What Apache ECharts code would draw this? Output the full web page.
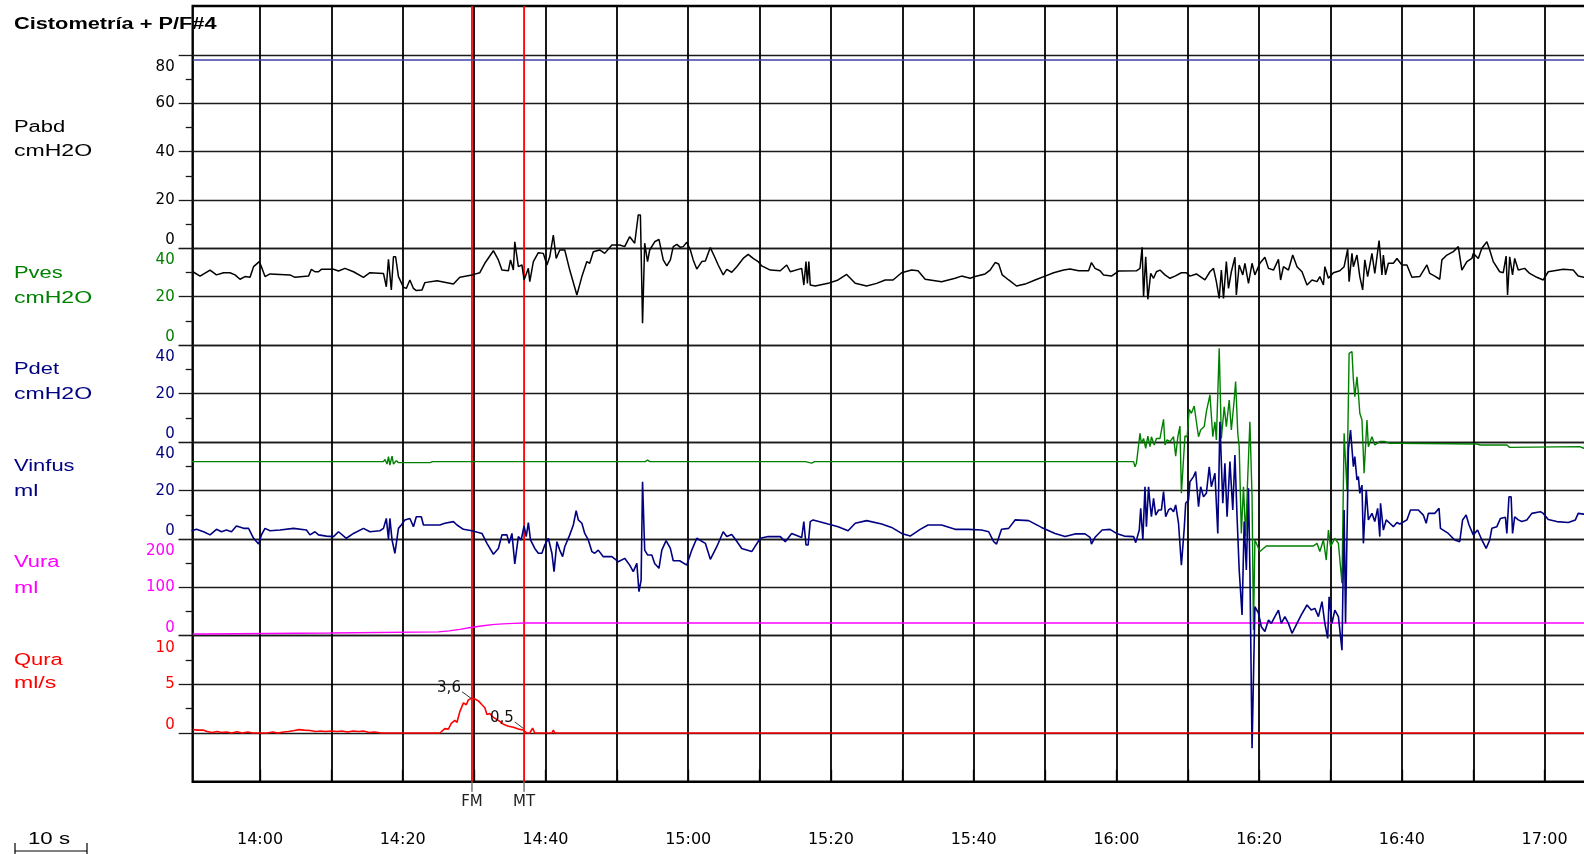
<!DOCTYPE html>
<html><head><meta charset="utf-8">
<script src="https://cdn.jsdelivr.net/npm/echarts@6/dist/echarts.min.js"></script>
<style>html,body{margin:0;padding:0;background:#fff}#c{width:1584px;height:854px}</style>
</head><body><div id="c"></div><script>
// ---------------- DATA ----------------
const title = 'Cistometría + P/F#4';
const channelNames = ['Pabd', 'Pves', 'Pdet', 'Vinfus', 'Vura', 'Qura'];
const channelUnits = ['cmH2O', 'cmH2O', 'cmH2O', 'ml', 'ml', 'ml/s'];
const channelColors = ['#000000', '#008000', '#000080', '#000080', '#ff00ff', '#ff0000'];
const axisMin = [0, 0, 0, 0, 0, 0];
const axisMax = [80, 40, 40, 40, 200, 10];
const axisStep = [20, 20, 20, 20, 100, 5];
const timeMin = 830.57, timeMax = 1027.2;          // seconds (mm:ss labels)
const markerNames = ['FM', 'MT'];
const markerTimes = [869.7, 877.0];
const annotationTexts = ['3,6', '0,5'];
const annotationFrom = [[868.3, 4.24], [875.7, 1.14]];
const annotationTo = [[869.6, 3.55], [876.9, 0.47]];

// blue flat trace (on Pabd scale)
const traceBlue = [[830.6, 77.9], [1027.2, 77.9]];
// black trace (on Pves scale)
const traceBlack = [[830.6,30.3],[831.6,28.5],[833.0,31.0],[833.9,29.0],[834.9,29.9],[835.8,29.9],[836.5,29.0],[837.2,27.2],[837.9,28.3],[838.6,28.0],[839.1,32.4],[839.9,34.5],[840.2,32.4],[840.7,28.3],[841.4,29.4],[844.2,29.0],[844.9,28.0],[846.8,28.5],[847.2,31.3],[847.7,30.3],[848.2,30.3],[848.6,31.3],[850.3,31.3],[851.0,30.6],[851.9,31.7],[853.1,30.3],[854.5,28.0],[855.4,29.9],[857.3,29.6],[857.7,24.1],[858.0,35.4],[858.4,22.8],[858.7,36.5],[859.0,36.5],[859.4,28.3],[860.1,23.9],[860.5,23.4],[861.0,26.9],[861.5,23.4],[861.9,22.5],[862.7,22.8],[863.1,25.8],[864.8,26.6],[867.1,25.2],[868.0,28.0],[869.7,29.0],[870.8,29.9],[871.5,33.8],[872.7,39.0],[873.4,35.2],[873.9,31.0],[874.8,30.7],[875.1,35.2],[875.5,31.0],[875.7,42.7],[876.2,32.4],[876.7,33.1],[877.0,26.9],[877.6,31.7],[877.8,26.2],[878.3,34.5],[879.0,38.2],[879.7,37.9],[880.2,33.1],[880.6,36.5],[881.1,45.5],[881.5,35.8],[882.0,39.3],[882.7,39.3],[883.4,31.0],[884.4,20.7],[885.1,28.3],[885.8,34.5],[886.2,33.8],[886.7,38.6],[887.6,39.3],[888.3,37.9],[889.3,41.4],[890.4,41.4],[891.1,40.7],[891.8,44.8],[892.5,42.1],[893.0,53.8],[893.3,53.8],[893.6,9.0],[893.9,42.1],[894.3,34.5],[894.6,39.3],[895.3,42.7],[895.9,43.7],[896.0,44.1],[896.5,35.2],[897.0,32.7],[897.5,35.2],[897.9,40.7],[898.4,41.6],[898.9,40.4],[899.3,40.7],[899.8,42.5],[900.3,39.3],[900.7,35.2],[901.2,31.4],[901.9,34.5],[902.4,34.7],[903.1,40.3],[903.8,35.8],[904.2,33.1],[904.9,29.0],[905.4,31.3],[906.1,30.1],[906.8,32.4],[907.7,35.8],[908.4,37.5],[909.1,35.8],[909.8,34.5],[910.3,32.7],[911.5,31.0],[912.9,30.7],[913.8,33.1],[914.3,30.3],[915.9,31.7],[916.2,24.8],[916.5,34.5],[916.7,25.5],[916.9,34.5],[917.1,24.8],[917.8,24.4],[919.6,25.5],[921.0,26.9],[922.2,29.2],[923.4,25.5],[925.0,24.4],[926.4,25.5],[927.6,26.9],[928.7,26.9],[929.9,29.9],[931.3,31.0],[932.2,30.7],[933.2,27.2],[935.5,26.2],[937.4,27.6],[938.3,28.5],[939.5,27.6],[940.2,28.3],[941.6,29.4],[942.3,31.0],[943.0,34.1],[943.5,33.5],[944.0,29.0],[944.9,26.9],[946.0,24.4],[947.2,25.2],[948.6,26.9],[950.0,28.5],[951.2,29.9],[952.6,31.0],[953.5,31.4],[954.7,30.7],[956.1,30.7],[956.5,34.1],[957.0,31.7],[957.7,30.7],[958.2,29.0],[959.3,28.5],[960.3,30.6],[962.8,30.7],[963.3,31.7],[963.6,40.4],[963.8,20.0],[964.1,36.5],[964.4,18.9],[964.8,29.6],[965.2,27.6],[965.6,30.3],[966.1,31.0],[966.8,29.0],[967.5,27.6],[968.2,28.5],[969.1,29.9],[969.8,29.9],[970.3,28.5],[971.2,29.4],[972.4,26.9],[973.1,30.3],[973.6,31.7],[974.0,26.2],[974.4,19.3],[974.7,31.0],[975.0,19.3],[975.4,34.5],[975.7,23.4],[976.1,30.3],[976.6,36.3],[976.8,20.7],[977.2,33.1],[977.7,29.0],[978.0,33.8],[978.5,25.5],[979.0,33.8],[979.4,29.0],[980.1,33.8],[980.8,36.3],[981.3,31.7],[982.0,31.0],[982.7,35.4],[983.0,26.9],[983.4,32.4],[984.1,31.0],[984.7,37.2],[985.3,32.4],[986.0,30.3],[986.7,24.8],[987.4,26.9],[988.1,26.2],[988.5,28.3],[989.0,24.8],[989.2,32.4],[989.7,27.6],[990.4,29.9],[991.3,30.7],[991.9,32.4],[992.4,39.6],[992.6,26.2],[993.0,37.9],[993.2,32.4],[993.7,37.2],[994.1,28.3],[994.5,22.8],[994.8,35.2],[995.2,28.3],[995.8,37.9],[996.2,29.6],[996.8,43.2],[997.2,29.0],[997.4,37.2],[997.7,29.0],[998.1,33.8],[998.8,33.8],[999.3,35.8],[1000.0,33.1],[1000.7,33.1],[1001.4,28.0],[1002.5,28.3],[1003.5,33.1],[1003.9,29.6],[1004.6,28.5],[1005.3,27.2],[1005.6,35.2],[1006.3,37.2],[1007.2,38.6],[1007.9,40.7],[1008.4,31.0],[1009.1,34.5],[1009.8,35.8],[1010.0,37.9],[1010.7,35.8],[1011.2,40.0],[1011.9,42.7],[1012.3,39.3],[1012.8,34.5],[1013.7,30.3],[1014.2,29.9],[1014.6,36.8],[1014.8,20.7],[1015.1,36.5],[1015.5,29.0],[1015.8,35.8],[1016.3,31.0],[1017.2,31.7],[1017.9,29.6],[1018.9,28.0],[1019.8,26.9],[1020.5,30.3],[1022.6,31.3],[1024.0,31.0],[1024.7,28.5],[1025.5,28.0],[1027.2,28.0]];
// green trace (on Vinfus scale)
const traceGreen = [[830.4,32.0],[857.3,32.0],[857.5,32.9],[857.8,31.0],[858.0,34.1],[858.2,30.6],[858.5,34.3],[858.7,31.0],[859.1,32.4],[859.4,31.6],[863.8,31.6],[864.2,32.0],[894.0,32.0],[894.3,32.7],[894.6,32.0],[916.4,32.0],[916.6,31.4],[917.3,31.4],[917.7,32.0],[962.4,32.0],[962.6,29.9],[962.8,31.3],[963.3,43.7],[963.5,39.6],[963.8,41.6],[964.1,37.5],[964.4,42.6],[964.7,38.2],[964.9,42.3],[965.3,38.9],[965.6,41.6],[966.1,41.6],[966.6,49.5],[966.8,38.9],[967.1,41.0],[967.5,40.3],[968.0,42.3],[968.3,34.3],[968.6,42.3],[968.9,46.7],[969.1,18.9],[969.6,42.6],[969.9,42.3],[970.2,53.6],[970.5,52.0],[970.9,55.0],[971.2,48.5],[971.5,42.3],[971.8,45.1],[972.3,46.5],[972.6,52.7],[973.1,59.6],[973.5,42.3],[973.8,48.5],[974.0,41.0],[974.4,78.9],[974.7,41.6],[975.1,54.7],[975.4,46.5],[975.8,57.5],[976.1,45.1],[976.5,57.5],[976.7,65.1],[977.0,43.7],[977.2,38.2],[977.5,2.3],[977.8,21.6],[978.1,1.0],[978.4,25.8],[978.7,48.5],[979.0,17.5],[979.2,-37.6],[979.4,-0.4],[980.1,-5.2],[981.0,-2.9],[987.6,-2.9],[988.1,-1.8],[988.5,-5.2],[989.0,-0.4],[989.4,-8.7],[989.7,3.7],[990.0,-3.2],[990.6,0.3],[991.1,-1.8],[991.6,-18.3],[991.9,43.7],[992.3,20.3],[992.6,76.8],[993.0,77.5],[993.2,65.8],[993.4,58.9],[993.7,67.1],[993.9,60.3],[994.1,52.0],[994.4,49.2],[994.7,27.2],[995.1,49.2],[995.3,38.2],[995.8,42.3],[996.2,38.9],[996.9,40.3],[997.6,40.3],[998.3,39.6],[999.3,39.6],[1010.5,39.3],[1011.0,38.9],[1014.7,38.9],[1015.1,37.9],[1024.9,38.2],[1025.5,37.5],[1027.2,37.5]];
// navy trace (on Vinfus scale)
const traceNavy = [[830.4,3.4],[831.1,4.0],[832.1,3.0],[833.0,1.7],[833.9,4.0],[834.6,3.0],[835.3,3.7],[836.0,3.0],[836.7,5.4],[837.7,4.4],[838.4,4.4],[839.1,0.3],[839.8,-2.1],[840.2,1.7],[840.7,4.4],[841.4,3.4],[842.8,3.7],[844.7,4.4],[846.5,3.7],[847.0,1.7],[847.7,3.0],[848.2,1.7],[849.3,1.2],[850.3,1.0],[851.0,3.0],[852.1,0.3],[853.1,2.3],[854.5,4.4],[855.4,3.0],[856.8,3.4],[857.3,4.4],[857.7,8.5],[858.0,-0.1],[858.2,8.5],[858.5,-0.4],[858.9,-5.9],[859.4,4.4],[859.8,5.8],[860.3,7.9],[861.0,8.5],[861.5,5.1],[861.9,9.2],[862.6,9.2],[862.9,5.8],[865.2,5.8],[865.9,6.5],[867.1,7.2],[867.6,5.8],[868.5,4.0],[869.7,3.4],[871.1,2.3],[871.8,-1.8],[872.7,-6.3],[873.4,-3.9],[873.9,1.7],[874.6,1.7],[874.9,-1.8],[875.3,2.3],[875.7,-10.3],[876.2,1.0],[876.6,-0.4],[877.0,5.4],[877.3,1.0],[877.6,6.8],[877.9,-0.4],[878.5,-3.9],[879.0,-5.9],[879.5,-5.9],[879.9,-2.5],[880.4,0.3],[880.9,-5.9],[881.2,-13.5],[881.6,-1.1],[882.0,-4.6],[882.4,-7.3],[882.7,-3.2],[883.4,1.7],[883.9,5.8],[884.3,11.7],[884.6,7.9],[885.1,6.5],[885.5,2.3],[886.0,-0.4],[886.5,-5.2],[886.9,-5.9],[887.4,-4.6],[888.1,-7.3],[889.3,-7.3],[890.2,-9.4],[891.1,-8.0],[891.8,-10.8],[892.3,-13.5],[892.8,-10.1],[893.1,-21.8],[893.4,-17.0],[893.6,23.7],[893.9,-4.6],[894.3,-6.6],[894.9,-6.6],[895.3,-10.1],[895.9,-12.1],[896.3,-4.6],[896.9,-0.7],[897.5,-3.9],[897.9,-9.0],[898.8,-9.0],[899.8,-10.8],[900.5,-4.6],[901.2,0.3],[902.4,-1.8],[903.1,-8.4],[904.0,-3.2],[904.9,3.0],[905.4,1.0],[906.1,1.9],[906.6,-0.1],[907.5,-3.9],[908.9,-5.2],[910.1,0.3],[911.2,1.0],[912.9,1.0],[913.6,-1.1],[914.5,2.3],[915.9,0.6],[916.2,7.2],[916.5,-2.5],[916.8,-2.5],[917.1,7.2],[917.5,7.9],[919.6,6.2],[921.0,5.1],[922.4,3.4],[923.4,6.5],[925.0,7.6],[927.1,6.2],[928.5,4.8],[929.9,2.3],[931.1,1.2],[932.5,4.0],[933.6,5.8],[935.5,5.8],[937.4,4.0],[939.3,4.0],[941.1,3.7],[942.1,3.0],[942.8,-1.1],[943.2,-2.1],[943.9,4.0],[944.9,4.4],[945.8,7.9],[947.7,7.6],[949.5,4.8],[951.4,2.3],[952.8,1.0],[954.2,2.1],[955.6,2.1],[956.3,0.7],[956.5,-2.1],[957.0,0.7],[958.0,3.7],[959.1,4.0],[960.0,2.3],[961.1,1.2],[962.4,1.0],[962.7,-1.5],[963.2,3.7],[963.4,12.7],[963.7,-0.4],[964.0,21.6],[964.2,5.1],[964.5,21.6],[964.7,14.8],[964.9,9.2],[965.2,16.8],[965.5,9.9],[965.9,12.0],[966.3,12.0],[966.6,19.6],[966.9,9.2],[967.3,12.0],[967.6,12.7],[968.0,11.3],[968.3,14.1],[968.7,6.5],[969.1,-10.8],[969.5,4.4],[969.7,14.8],[970.1,16.1],[970.3,23.7],[970.8,25.8],[971.1,27.9],[971.5,13.4],[971.8,21.6],[972.2,17.5],[972.6,18.9],[973.0,29.9],[973.3,21.6],[973.8,27.2],[974.2,2.3],[974.5,48.5],[974.9,14.8],[975.2,31.3],[975.5,9.2],[975.9,32.0],[976.3,12.0],[976.6,34.7],[976.9,9.2],[977.2,-12.8],[977.6,-31.4],[977.9,7.2],[978.2,-12.8],[978.5,21.0],[978.7,-12.8],[979.0,-86.6],[979.4,-28.0],[979.9,-30.7],[980.3,-36.3],[980.8,-38.3],[981.3,-33.5],[981.7,-34.9],[982.2,-32.1],[982.7,-29.4],[983.1,-34.9],[983.6,-32.1],[984.1,-34.9],[984.6,-39.0],[985.3,-34.9],[985.9,-31.4],[986.7,-27.3],[987.3,-29.4],[987.8,-28.7],[988.3,-32.1],[988.8,-25.9],[989.2,-34.9],[989.6,-41.1],[989.8,-23.9],[990.2,-34.9],[990.6,-29.4],[991.1,-32.1],[991.6,-46.0],[991.9,12.0],[992.1,-34.9],[992.5,36.8],[992.8,45.1],[993.2,29.9],[993.4,34.1],[993.7,24.4],[993.9,25.8],[994.1,18.9],[994.4,22.3],[994.6,-1.8],[995.0,20.3],[995.3,7.9],[995.8,10.6],[996.2,7.2],[996.6,12.7],[996.9,1.0],[997.0,14.8],[997.4,3.7],[997.8,7.9],[998.3,6.5],[998.8,5.1],[999.3,6.8],[999.7,6.2],[1000.7,7.9],[1001.2,12.0],[1002.3,12.0],[1003.0,9.9],[1003.4,6.5],[1003.7,10.6],[1004.6,10.6],[1005.2,12.7],[1005.4,4.4],[1006.5,2.3],[1007.4,-0.4],[1008.1,-1.1],[1008.5,7.9],[1009.0,9.9],[1009.4,5.8],[1010.0,1.7],[1010.6,3.7],[1011.2,-0.4],[1011.8,-3.9],[1012.3,-0.4],[1012.6,4.4],[1013.3,5.1],[1013.8,8.5],[1014.5,9.0],[1014.7,2.3],[1015.0,17.5],[1015.3,17.5],[1015.5,2.3],[1015.8,9.2],[1016.3,7.9],[1016.8,7.2],[1017.5,7.9],[1018.2,10.6],[1019.4,11.3],[1019.8,10.6],[1020.5,8.1],[1021.7,7.2],[1023.3,6.8],[1024.3,7.9],[1024.7,10.6],[1025.5,10.3],[1027.2,10.3]];
// magenta trace (Vura, ml)
const traceMagenta = [[830.6,3.5],[832.0,3.5],[832.2,5.5],[849.8,5.5],[850.0,7.5],[865.0,8.0],[866.5,10.0],[868.0,13.0],[869.5,17.0],[871.0,20.0],[872.5,23.0],[874.0,24.5],[875.5,25.5],[877.0,26.3],[1027.2,26.3]];
// red trace (Qura, ml/s)
const traceRed = [[830.6,0.35],[831.3,0.3],[832.0,0.3],[832.6,0.15],[833.3,0.05],[834.0,0.15],[834.6,0.05],[835.3,0.1],[836.0,0.0],[836.8,0.12],[837.5,0.0],[838.3,0.1],[839.0,0.0],[841.0,0.0],[841.8,0.1],[842.5,0.0],[843.3,0.1],[844.0,0.15],[844.8,0.25],[845.5,0.35],[846.2,0.3],[847.0,0.25],[847.8,0.15],[848.5,0.2],[849.2,0.15],[850.0,0.2],[850.8,0.15],[851.5,0.2],[852.3,0.1],[853.0,0.2],[853.8,0.15],[854.5,0.2],[855.3,0.05],[856.0,0.1],[857.0,0.0],[865.2,0.0],[865.9,0.45],[866.4,0.4],[866.8,1.0],[867.3,1.3],[867.6,1.1],[868.0,2.2],[868.5,3.1],[868.9,2.9],[869.2,3.4],[869.7,3.6],[870.1,3.5],[870.6,3.3],[871.1,2.9],[871.5,2.6],[871.8,1.9],[872.2,2.0],[872.7,1.6],[873.4,1.3],[874.1,0.9],[874.8,0.7],[875.5,0.6],[876.2,0.4],[876.9,0.3],[877.4,0.0],[877.8,0.0],[878.2,0.5],[878.5,0.0],[880.9,0.0],[881.1,0.3],[881.3,0.0],[887.4,0.0],[887.6,0.15],[887.8,0.0],[1027.2,0.0]];

// ---------------- LAYOUT ----------------
const FONT = '"Liberation Sans", Arial, Helvetica, sans-serif';
const NUMFONT = '"DejaVu Sans", "Liberation Sans", sans-serif';
const LEFT = 192.7, TOP = 6, BOTTOM_Y = 781.7;
const PX_PER_S = 7.137;
const WIDTH = (timeMax - timeMin) * PX_PER_S;           // extends past right edge
const panelTop = [55, 248.3, 345, 442.3, 539, 635.7];
const panelHeight = [193.3, 96.7, 97.3, 96.7, 96.7, 97.3];
const nameY = [127.7, 273.3, 369.3, 466.7, 563, 660.7];
const unitY = [151.7, 298.3, 395, 491.7, 589, 684];
const H_LINE = {color: '#1a1a1a', width: 1.3};
const V_LINE = {color: '#000', width: 1.8};

const grids = [], xAxes = [], yAxes = [], series = [];
channelNames.forEach((n, i) => {
  grids.push({left: LEFT, width: WIDTH, top: panelTop[i], height: panelHeight[i], outerBoundsMode: 'none', containLabel: false});
  xAxes.push({gridIndex: i, type: 'value', min: timeMin, max: timeMax, show: false});
  const c = channelColors[i], mn = axisMin[i], mx = axisMax[i];
  yAxes.push({
    gridIndex: i, type: 'value', min: mn, max: mx, interval: axisStep[i], position: 'left',
    axisLine: {show: false},
    axisTick: {show: true, length: 14, lineStyle: H_LINE},
    minorTick: {show: true, splitNumber: 2, length: 7, lineStyle: H_LINE},
    splitLine: {show: true, lineStyle: H_LINE},
    minorSplitLine: {show: false},
    axisLabel: {
      margin: 18, color: c, fontSize: 15, fontFamily: NUMFONT,
      formatter: v => v === mx ? '{s| }\n{d|' + v + '}' : (v === mn ? '{u|' + v + '}\n{t| }' : '{n|' + v + '}'),
      rich: {
        n: {color: c, fontSize: 15, fontFamily: NUMFONT},
        d: {color: c, fontSize: 15, fontFamily: NUMFONT, lineHeight: 14},
        u: {color: c, fontSize: 15, fontFamily: NUMFONT, lineHeight: 14},
        s: {fontSize: 15, lineHeight: 24},
        t: {fontSize: 15, lineHeight: 16}
      }
    }
  });
});
// background frame grid (6)
grids.push({left: LEFT, width: WIDTH, top: TOP, height: BOTTOM_Y - TOP, outerBoundsMode: 'none', show: true, borderColor: '#000', borderWidth: 2.4, backgroundColor: 'transparent'});
xAxes.push({gridIndex: 6, type: 'value', min: timeMin, max: timeMax, show: false});
yAxes.push({gridIndex: 6, type: 'value', min: 0, max: 1, show: false});
// time grid (7) : vertical lines + bottom time axis (starts at 14:00 = 840 s)
const vLeft = LEFT + (840 - timeMin) * PX_PER_S;
grids.push({left: vLeft, width: (timeMax - 840) * PX_PER_S, top: TOP, height: BOTTOM_Y - TOP, outerBoundsMode: 'none'});
xAxes.push({
  gridIndex: 7, type: 'value', min: 840, max: timeMax, interval: 10, position: 'bottom', offset: 74,
  axisLine: {show: false},
  axisTick: {show: true, inside: true, length: 12, lineStyle: {color: '#000', width: 1.3}},
  axisLabel: {
    inside: true, margin: 8, color: '#000', fontSize: 16, fontFamily: NUMFONT,
    showMinLabel: true, showMaxLabel: false,
    formatter: v => {
      const r = Math.round(v);
      if (Math.abs(v - r) > 1e-6 || r % 20 !== 0) return '';
      const m = Math.floor(r / 60), s = r % 60;
      return m + ':' + (s < 10 ? '0' + s : s);
    }
  },
  splitLine: {show: true, lineStyle: V_LINE}
});
yAxes.push({gridIndex: 7, type: 'value', min: 0, max: 1, show: false});

// marker lines FM / MT
markerNames.forEach((nm, i) => {
  const t = markerTimes[i];
  series.push({type: 'line', xAxisIndex: 7, yAxisIndex: 7, data: [[t, 0], [t, 1]], symbol: 'none',
    lineStyle: {color: '#ff0000', width: 1.8}, z: 3, silent: true, animation: false});
  series.push({type: 'line', xAxisIndex: 7, yAxisIndex: 7, clip: false, symbol: 'circle', symbolSize: 0.1,
    data: [{value: [t, -0.0129], label: {show: true, position: 'bottom', distance: 3, formatter: nm,
      color: '#222', fontSize: 15, fontFamily: NUMFONT}}, [t, 0]],
    lineStyle: {color: '#777', width: 1.5}, itemStyle: {color: '#777'}, z: 3, silent: true, animation: false});
});

function trace(data, axis, color, width, z) {
  return {type: 'line', xAxisIndex: axis, yAxisIndex: axis, data: data, symbol: 'none', clip: false,
    lineStyle: {color: color, width: width}, z: z, silent: true, animation: false};
}
series.push(trace(traceBlue, 0, '#4040a8', 1.4, 4));
series.push(trace(traceBlack, 1, '#000000', 1.5, 5));
series.push(trace(traceGreen, 3, '#008000', 1.4, 5));
series.push(trace(traceNavy, 3, '#000080', 1.6, 6));
series.push(trace(traceMagenta, 4, '#ff00ff', 1.4, 5));
series.push(trace(traceRed, 5, '#ff0000', 1.6, 6));

// value annotations with leaders on Qura
annotationTexts.forEach((txt, i) => {
  series.push({type: 'line', xAxisIndex: 5, yAxisIndex: 5, symbol: 'circle', symbolSize: 0.1, clip: false,
    data: [{value: annotationFrom[i], label: {show: true, position: 'left', distance: 1, offset: [0, -4],
      formatter: txt, color: '#111', fontSize: 15, fontFamily: NUMFONT}}, annotationTo[i]],
    lineStyle: {color: '#333', width: 1}, itemStyle: {color: '#333'}, z: 7, silent: true, animation: false});
});

// text labels on the left
const graphic = [];
graphic.push({type: 'text', x: 14, y: 25, scaleX: 1.36, style: {text: title, fill: '#000',
  font: 'bold 16px ' + FONT, verticalAlign: 'middle', align: 'left'}});
channelNames.forEach((n, i) => {
  graphic.push({type: 'text', x: 14, y: nameY[i], scaleX: 1.37, style: {text: n, fill: channelColors[i],
    font: '16px ' + FONT, verticalAlign: 'middle', align: 'left'}});
  graphic.push({type: 'text', x: 14, y: unitY[i], scaleX: 1.44, style: {text: channelUnits[i], fill: channelColors[i],
    font: '16px ' + FONT, verticalAlign: 'middle', align: 'left'}});
});
// 10 s scale bar
graphic.push({type: 'text', x: 28, y: 840, scaleX: 1.39, style: {text: '10 s', fill: '#000', font: '16px ' + FONT,
  verticalAlign: 'middle', align: 'left'}});
graphic.push({type: 'polyline', shape: {points: [[15, 851], [87, 851]]}, style: {stroke: '#000', lineWidth: 1.2}});
graphic.push({type: 'polyline', shape: {points: [[15, 843], [15, 856]]}, style: {stroke: '#000', lineWidth: 1.2}});
graphic.push({type: 'polyline', shape: {points: [[87, 843], [87, 856]]}, style: {stroke: '#000', lineWidth: 1.2}});

const chart = echarts.init(document.getElementById('c'), null, {renderer: 'canvas'});
chart.setOption({
  animation: false,
  backgroundColor: '#fff',
  grid: grids, xAxis: xAxes, yAxis: yAxes, series: series, graphic: graphic
});
</script></body></html>
